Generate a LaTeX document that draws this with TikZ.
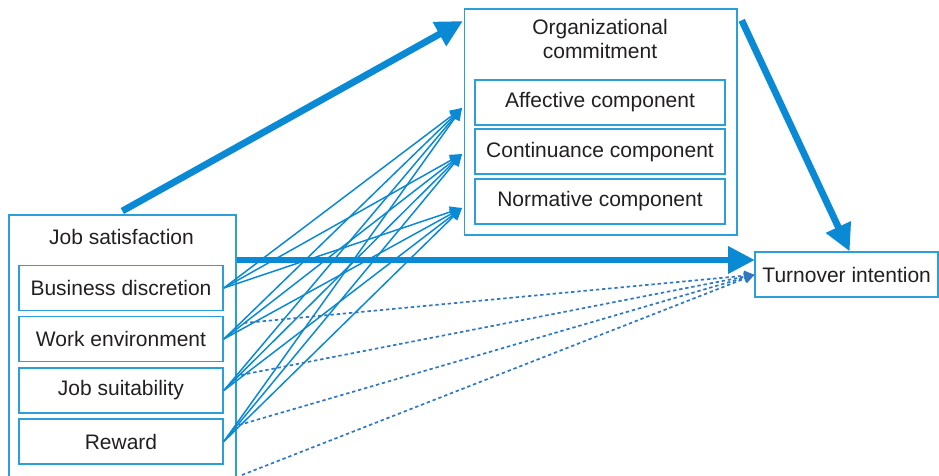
\documentclass[tikz,border=0pt]{standalone}
\usepackage{fontspec}
\setmainfont{Liberation Sans}
\usetikzlibrary{arrows.meta}

\definecolor{boxblue}{HTML}{2A9FDA}
\definecolor{arrowblue}{HTML}{0A8AD4}
\definecolor{dotblue}{HTML}{2F78C4}
\definecolor{ink}{HTML}{231F20}

\tikzset{
  box/.style={draw=boxblue, line width=0.85pt, inner sep=0pt, text=ink},
  item/.style={box, minimum height=22.5pt},
  bigarrow/.style={arrowblue, line width=3.4pt, -{Triangle[length=13.5pt,width=13pt]}},
  thinarrow/.style={arrowblue, line width=0.75pt, -{Triangle[length=6pt,width=5.5pt]}},
  dotarrow/.style={dotblue, line width=0.85pt, dash pattern=on 1.7pt off 1.4pt,
    -{Triangle[length=5pt,width=5pt]}},
}

\begin{document}
\begin{tikzpicture}[x=0.5pt, y=-0.5pt, font=\fontsize{10.5}{11.85}\selectfont]
  \clip (0,0) rectangle (939,476);

  % job satisfaction and its four facets
  \node[box, minimum width=113.5pt, minimum height=140pt, anchor=north west] (jsbox) at (8,214) {};
  \node[text=ink] (jstitle) at (121.5,237) {Job satisfaction};
  \node[item, minimum width=102pt] (bd) at (121,288) {Business discretion};
  \node[item, minimum width=102pt] (we) at (121,339) {Work environment};
  \node[item, minimum width=102pt] (suit) at (121,390.5) {Job suitability};
  \node[item, minimum width=102pt] (rew) at (121,441.5) {Reward};

  % organizational commitment and its components
  \node[box, minimum width=136.15pt, minimum height=112.85pt, anchor=north west] (ocbox) at (463.7,8.3) {};
  \node[text=ink, align=center] (octitle) at (600,39) {Organizational\\commitment};
  \node[item, minimum width=124.7pt] (aff) at (600,102.5) {Affective component};
  \node[item, minimum width=124.7pt] (cont) at (600,151.8) {Continuance component};
  \node[item, minimum width=124.7pt] (norm) at (600,201.5) {Normative component};

  \node[item, minimum width=91.5pt] (ti) at (846.7,274.8) {Turnover intention};

  % arrow ends
  \coordinate (ocin) at (463,21);
  \coordinate (tihi) at (755,260);
  \coordinate (ta) at (462,108);
  \coordinate (tb) at (462,154);
  \coordinate (tc) at (462,208);
  \coordinate (d1) at (244,323);
  \coordinate (d2) at (241,375);
  \coordinate (d3) at (239,425);
  \coordinate (d4) at (242,475);

  % main paths
  \draw[bigarrow] ([yshift=1.5pt]jsbox.north) -- (ocin);
  \draw[bigarrow] (jsbox.east |- tihi) -- (tihi);
  \draw[bigarrow] ([xshift=2pt,yshift=-6pt]ocbox.north east) -- ([xshift=1.5pt]ti.north);

  % facets to components
  \foreach \s in {bd,we,suit,rew}
    \foreach \t in {ta,tb,tc}
      \draw[thinarrow] (\s.east) -- (\t);

  % dotted paths to turnover intention
  \foreach \d in {d1,d2,d3,d4}
    \draw[dotarrow] (\d) -- (ti.west);
\end{tikzpicture}
\end{document}
